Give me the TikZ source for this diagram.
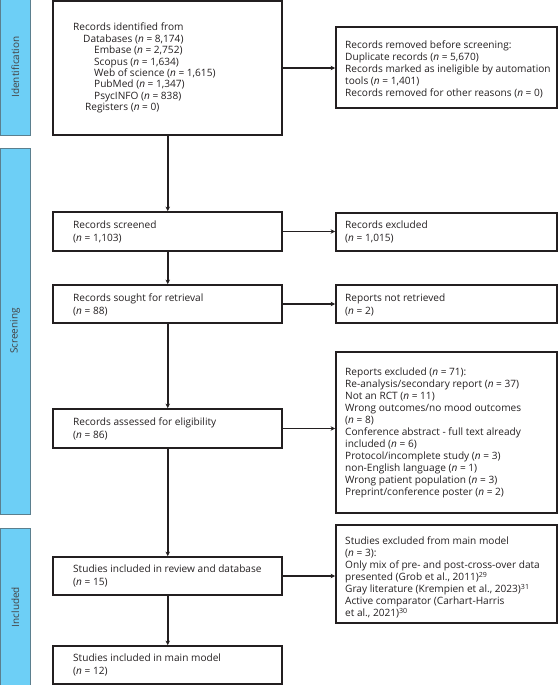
\documentclass[tikz,border=0pt]{standalone}
\usepackage{fontspec}
\setmainfont{Open Sans}
\usetikzlibrary{arrows.meta}
\definecolor{barblue}{HTML}{6DCFF6}
\definecolor{baredge}{HTML}{5B7F8E}
\definecolor{ink}{HTML}{231F20}
\newcommand{\nn}{\textit{n}}
\begin{document}
\begin{tikzpicture}[x=1pt,y=-1pt,
  lbox/.style={draw=ink,line width=1.8pt,inner sep=0pt,minimum width=229pt},
  rbox/.style={draw=ink,line width=1.8pt,inner sep=0pt,minimum width=221pt},
  txt/.style={anchor=north west,inner sep=0pt,align=left,text=ink,font=\fontsize{10.1}{12}\selectfont},
  tight/.style={txt,font=\fontsize{10.1}{11.4}\selectfont},
  twoline/.style={txt,font=\fontsize{10.1}{13}\selectfont},
  bar/.style={draw=baredge,line width=0.6pt,fill=barblue,rotate=90,inner sep=0pt,
    minimum height=30.5pt,text=ink!85,font=\fontsize{10}{11}\selectfont},
  arr/.style={draw=ink,line width=1.8pt,-{Stealth[length=4.5pt,width=4.5pt]}}]
\useasboundingbox (0,0) rectangle (558,685);
% phase bars
\node[bar,minimum width=136pt] (idbar) at (15.25,67) {Identification};
\node[bar,minimum width=366pt] (scrbar) at (15.25,331) {Screening};
\node[bar,minimum width=158pt] (incbar) at (15.25,607) {Included};
% boxes
\node[lbox,minimum height=134pt] (id) at (167.75,68) {};
\node[rbox,minimum height=81pt] (rm) at (446.5,67.5) {};
\node[lbox,minimum height=39pt] (scr) at (167.75,231.5) {};
\node[rbox,minimum height=38pt] (excl) at (446.5,232) {};
\node[lbox,minimum height=38pt] (sought) at (167.75,304) {};
\node[rbox,minimum height=38pt] (notret) at (446.5,304) {};
\node[lbox,minimum height=39pt] (assess) at (167.75,428.5) {};
\node[rbox,minimum height=161pt] (repexcl) at (446.5,432.5) {};
\node[lbox,minimum height=38pt] (incl) at (167.75,576) {};
\node[rbox,minimum height=98pt] (stexcl) at (446.5,574) {};
\node[lbox,minimum height=38pt] (mainm) at (167.75,665) {};
% texts
\node[tight] (tid) at (73,23) {Records identified from\\
\hspace*{10pt}Databases (\nn{} = 8,174)\\
\hspace*{21pt}Embase (\nn{} = 2,752)\\
\hspace*{21pt}Scopus (\nn{} = 1,634)\\
\hspace*{21pt}Web of science (\nn{} = 1,615)\\
\hspace*{21pt}PubMed (\nn{} = 1,347)\\
\hspace*{21pt}PsycINFO (\nn{} = 838)\\
\hspace*{12pt}Registers (\nn{} = 0)};
\node[txt] (trm) at (345,41) {Records removed before screening:\\
Duplicate records (\nn{} = 5,670)\\
Records marked as ineligible by automation\\
tools (\nn{} = 1,401)\\
Records removed for other reasons (\nn{} = 0)};
\node[twoline] (tscr) at (73,221) {Records screened\\(\nn{} = 1,103)};
\node[twoline] (texcl) at (345,221) {Records excluded\\(\nn{} = 1,015)};
\node[twoline] (tsought) at (73,294) {Records sought for retrieval\\(\nn{} = 88)};
\node[twoline] (tnotret) at (345,294) {Reports not retrieved\\(\nn{} = 2)};
\node[twoline] (tassess) at (73,418) {Records assessed for eligibility\\(\nn{} = 86)};
\node[txt] (trepexcl) at (345,368) {Reports excluded (\nn{} = 71):\\
Re-analysis/secondary report (\nn{} = 37)\\
Not an RCT (\nn{} = 11)\\
Wrong outcomes/no mood outcomes\\
(\nn{} = 8)\\
Conference abstract - full text already\\
included (\nn{} = 6)\\
Protocol/incomplete study (\nn{} = 3)\\
non-English language (\nn{} = 1)\\
Wrong patient population (\nn{} = 3)\\
Preprint/conference poster (\nn{} = 2)};
\node[twoline] (tincl) at (73,565) {Studies included in review and database\\(\nn{} = 15)};
\node[txt] (tstexcl) at (345,537) {Studies excluded from main model\\
(\nn{} = 3):\\
Only mix of pre- and post-cross-over data\\
presented (Grob et al., 2011)\textsuperscript{29}\\
Gray literature (Krempien et al., 2023)\textsuperscript{31}\\
Active comparator (Carhart-Harris\\
et al., 2021)\textsuperscript{30}};
\node[twoline] (tmain) at (73,654) {Studies included in main model\\(\nn{} = 12)};
% connectors
\draw[arr] (id.south) -- (scr.north);
\draw[arr] (scr.south) -- (sought.north);
\draw[arr] (sought.south) -- (assess.north);
\draw[arr] (assess.south) -- (incl.north);
\draw[arr] (incl.south) -- (mainm.north);
\draw[arr] (id.east) -- (id.east -| rm.west);
\draw[arr] (scr.east) -- (scr.east -| excl.west);
\draw[arr] (sought.east) -- (sought.east -| notret.west);
\draw[arr] (assess.east) -- (assess.east -| repexcl.west);
\draw[arr] (incl.east) -- (incl.east -| stexcl.west);
\end{tikzpicture}
\end{document}
